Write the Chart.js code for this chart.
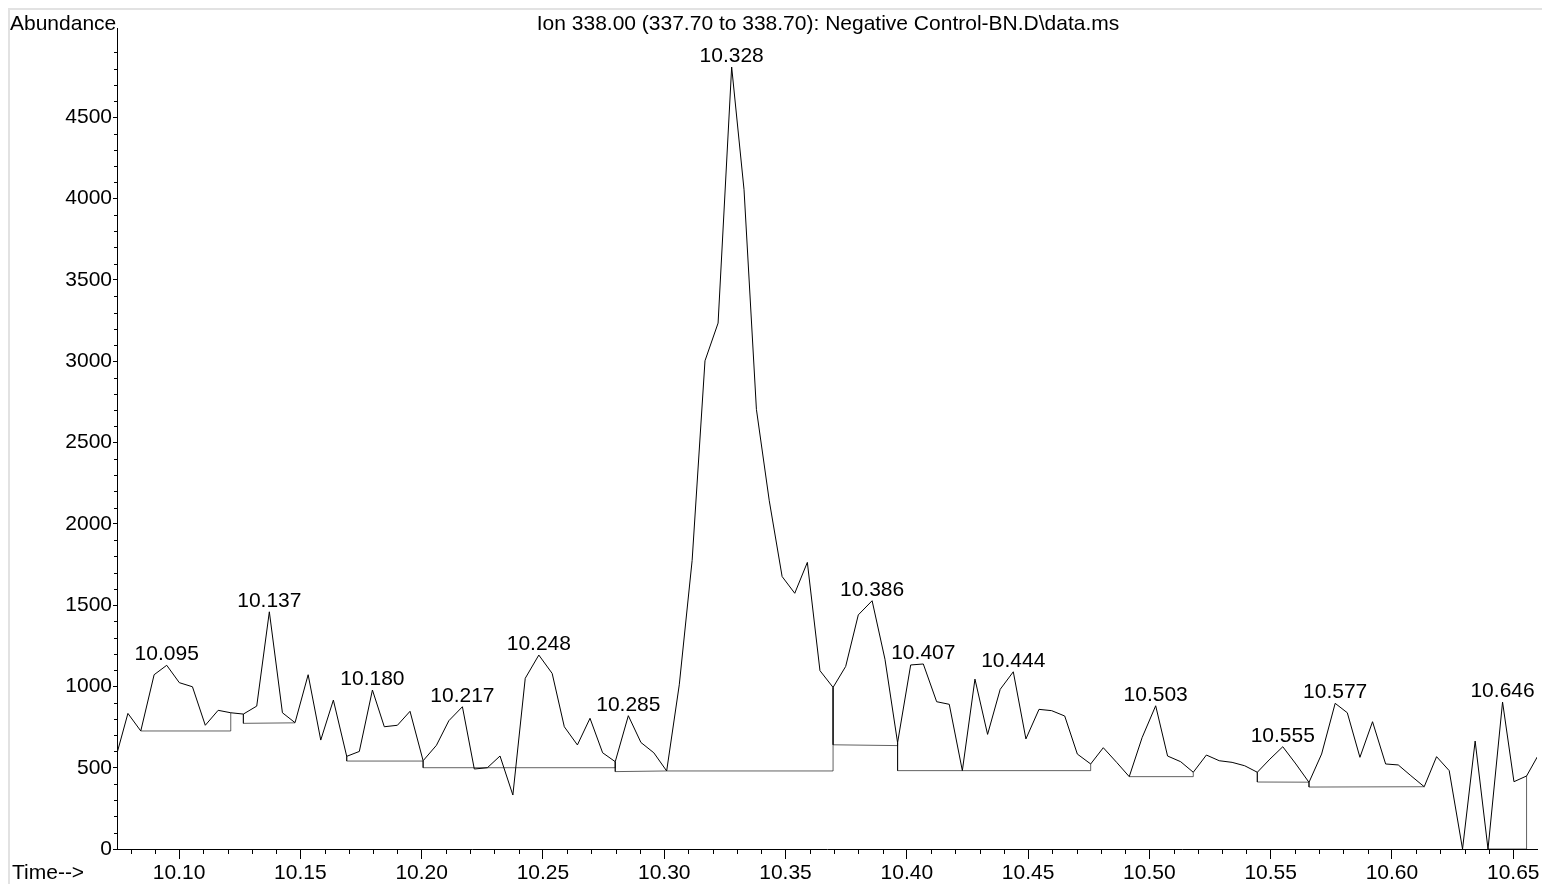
<!DOCTYPE html>
<html>
<head>
<meta charset="utf-8">
<title>Ion 338.00 chromatogram</title>
<script src="https://cdn.jsdelivr.net/npm/chart.js@4.4.1/dist/chart.umd.min.js"></script>
<style>
  html, body { margin: 0; padding: 0; background: #ffffff; }
  canvas { display: block; }
</style>
</head>
<body>
<canvas id="chrom" width="1542" height="884"></canvas>
<script>
// Extracted ion chromatogram, m/z 338.00 (337.70 to 338.70)
const chartTitle = 'Ion 338.00 (337.70 to 338.70): Negative Control-BN.D\\data.ms';

// Retention time of each scan (min)
const times = [
  10.0736, 10.0789, 10.0842, 10.0897, 10.0949, 10.1001, 10.1055, 10.1108, 10.1161, 10.1213,
  10.1265, 10.1320, 10.1372, 10.1426, 10.1478, 10.1532, 10.1584, 10.1636, 10.1691, 10.1743,
  10.1797, 10.1846, 10.1900, 10.1952, 10.2006, 10.2061, 10.2112, 10.2168, 10.2217, 10.2271,
  10.2323, 10.2376, 10.2427, 10.2483, 10.2538, 10.2588, 10.2642, 10.2694, 10.2746, 10.2798,
  10.2852, 10.2904, 10.2957, 10.3010, 10.3062, 10.3115, 10.3168, 10.3222, 10.3278, 10.3329,
  10.3380, 10.3433, 10.3486, 10.3538, 10.3590, 10.3642, 10.3696, 10.3748, 10.3800, 10.3857,
  10.3910, 10.3962, 10.4016, 10.4068, 10.4123, 10.4175, 10.4229, 10.4281, 10.4333, 10.4385,
  10.4439, 10.4491, 10.4545, 10.4597, 10.4651, 10.4703, 10.4758, 10.4810, 10.4865, 10.4917,
  10.4970, 10.5026, 10.5075, 10.5129, 10.5181, 10.5235, 10.5288, 10.5341, 10.5393, 10.5445,
  10.5497, 10.5550, 10.5604, 10.5658, 10.5710, 10.5766, 10.5816, 10.5868, 10.5920, 10.5974,
  10.6026, 10.6078, 10.6133, 10.6184, 10.6236, 10.6291, 10.6343, 10.6396, 10.6456, 10.6503,
  10.6555, 10.6608
];

// Abundance of each scan
const abundance = [
  545, 834, 726, 1072, 1130, 1023, 998, 761, 853, 838,
  830, 879, 1459, 838, 777, 1072, 670, 916, 570, 600,
  978, 752, 761, 847, 543, 638, 789, 875, 492, 500,
  572, 332, 1050, 1193, 1080, 752, 640, 804, 592, 537,
  820, 655, 592, 480, 1010, 1775, 3003, 3235, 4810, 4055,
  2704, 2142, 1676, 1573, 1763, 1097, 994, 1123, 1440, 1527,
  1167, 654, 1132, 1138, 906, 890, 482, 1045, 705, 982,
  1090, 677, 859, 851, 818, 584, 523, 623, 533, 445,
  685, 881, 572, 537, 472, 578, 543, 533, 512, 472,
  553, 629, 523, 410, 584, 896, 838, 564, 783, 523,
  517, 451, 383, 568, 482, 0, 664, 0, 904, 414,
  449, 590
];

// Integrated peak apex times
const peakLabels = [
  '10.095', '10.137', '10.180', '10.217', '10.248', '10.285', '10.328',
  '10.386', '10.407', '10.444', '10.503', '10.555', '10.577', '10.646'
];

// Integration baselines with their drop lines: [time, abundance]
const baseline1  = [[10.0842, 726], [10.1213, 726], [10.1213, 838]];
const baseline2  = [[10.1265, 830], [10.1265, 773], [10.1478, 776]];
const baseline3  = [[10.1691, 570], [10.1691, 541], [10.2006, 541]];
const baseline4  = [[10.2006, 543], [10.2006, 500], [10.2798, 500], [10.2798, 537]];
const baseline5  = [[10.2798, 537], [10.2798, 476], [10.3010, 480], [10.3696, 480], [10.3696, 994]];
const baseline6  = [[10.3696, 994], [10.3696, 641], [10.3962, 636], [10.3962, 654]];
const baseline7  = [[10.3962, 654], [10.3962, 482], [10.4758, 482], [10.4758, 523]];
const baseline8  = [[10.4917, 445], [10.5181, 445], [10.5181, 472]];
const baseline9  = [[10.5445, 472], [10.5445, 412], [10.5658, 411]];
const baseline10 = [[10.5658, 410], [10.5658, 381], [10.6133, 383]];
const baseline11 = [[10.6396, 0], [10.6555, 0], [10.6555, 449]];
const baselines = [baseline1, baseline2, baseline3, baseline4, baseline5, baseline6,
                   baseline7, baseline8, baseline9, baseline10, baseline11];

// Axis ticks
const xTickValues = [10.10, 10.15, 10.20, 10.25, 10.30, 10.35, 10.40, 10.45, 10.50, 10.55, 10.60, 10.65];
const yTickValues = [0, 500, 1000, 1500, 2000, 2500, 3000, 3500, 4000, 4500];
const xRange = [10.0744, 10.6598];
const yRange = [0, 5050];

const FONT = '"Liberation Sans", Arial, Helvetica, sans-serif';
const FONT_SIZE = 21;

const traceData = times.map((t, i) => ({ x: t, y: abundance[i] }));

const baselineSets = baselines.map(b => ({
  data: b.map(p => ({ x: p[0], y: p[1] })),
  borderColor: 'rgba(0,0,0,0.62)',
  borderWidth: 1,
  pointRadius: 0,
  tension: 0,
  fill: false,
  order: 2
}));

// Frame, axis captions, minor ticks and peak annotations
const decorations = {
  id: 'decorations',
  beforeDraw(chart) {
    const ctx = chart.ctx;
    ctx.save();
    ctx.fillStyle = '#ffffff';
    ctx.fillRect(0, 0, chart.width, chart.height);
    ctx.fillStyle = '#e2e2e2';
    ctx.fillRect(8, 8, chart.width - 8, 2);
    ctx.fillRect(8, 8, 2, chart.height - 8);
    ctx.restore();
  },
  afterDraw(chart) {
    const ctx = chart.ctx;
    const area = chart.chartArea;
    const xs = chart.scales.x;
    const ys = chart.scales.y;
    ctx.save();

    // minor ticks
    ctx.strokeStyle = '#000';
    ctx.lineWidth = 1;
    ctx.beginPath();
    for (let v = 100; v <= 5000; v += 100) {
      if (v % 500 === 0) continue;
      const py = Math.round(ys.getPixelForValue(v)) + 0.5;
      ctx.moveTo(area.left - 3, py);
      ctx.lineTo(area.left, py);
    }
    for (let k = 1008; k <= 1065; k++) {
      if (k % 5 === 0) continue;
      const px = Math.round(xs.getPixelForValue(k / 100)) + 0.5;
      ctx.moveTo(px, area.bottom);
      ctx.lineTo(px, area.bottom + 5);
    }
    ctx.stroke();

    // captions
    ctx.fillStyle = '#000';
    ctx.font = FONT_SIZE + 'px ' + FONT;
    ctx.textBaseline = 'alphabetic';
    ctx.textAlign = 'left';
    ctx.fillText('Abundance', 10, 30);
    ctx.fillText('Time-->', 12, 879);
    ctx.textAlign = 'center';
    ctx.fillText(chartTitle, (area.left + area.right) / 2 + 1, 30);

    // peak retention time labels
    const meta = chart.getDatasetMeta(0);
    peakLabels.forEach(lbl => {
      const t = parseFloat(lbl);
      let best = 0;
      for (let i = 1; i < times.length; i++) {
        if (Math.abs(times[i] - t) < Math.abs(times[best] - t)) best = i;
      }
      const pt = meta.data[best];
      ctx.fillText(lbl, pt.x, pt.y - 5);
    });
    ctx.restore();
  }
};

new Chart(document.getElementById('chrom'), {
  type: 'line',
  data: {
    datasets: [
      {
        data: traceData,
        borderColor: '#000000',
        borderWidth: 1,
        pointRadius: 0,
        tension: 0,
        fill: false,
        order: 1
      },
      ...baselineSets
    ]
  },
  options: {
    responsive: false,
    animation: false,
    devicePixelRatio: 1,
    events: [],
    layout: { padding: { left: 0, right: 5, top: 28, bottom: 0 } },
    plugins: {
      legend: { display: false },
      tooltip: { enabled: false },
      title: { display: false }
    },
    scales: {
      x: {
        type: 'linear',
        min: xRange[0],
        max: xRange[1],
        afterBuildTicks: s => { s.ticks = xTickValues.map(v => ({ value: v })); },
        afterFit: s => { s.height = 35; s.paddingLeft = 0; s.paddingRight = 0; },
        ticks: {
          callback: v => Number(v).toFixed(2),
          color: '#000',
          font: { family: FONT, size: FONT_SIZE },
          padding: 2,
          maxRotation: 0,
          autoSkip: false
        },
        grid: { drawOnChartArea: false, drawTicks: true, tickLength: 10, tickColor: '#000', tickWidth: 1 },
        border: { display: true, color: '#000', width: 1 }
      },
      y: {
        type: 'linear',
        min: yRange[0],
        max: yRange[1],
        afterBuildTicks: s => { s.ticks = yTickValues.map(v => ({ value: v })); },
        afterFit: s => { s.width = 117; s.paddingTop = 0; s.paddingBottom = 0; },
        ticks: {
          callback: v => String(v),
          color: '#000',
          font: { family: FONT, size: FONT_SIZE },
          padding: 1,
          autoSkip: false
        },
        grid: { drawOnChartArea: false, drawTicks: true, tickLength: 4, tickColor: '#000', tickWidth: 1 },
        border: { display: true, color: '#000', width: 1 }
      }
    }
  },
  plugins: [decorations]
});
</script>
</body>
</html>
